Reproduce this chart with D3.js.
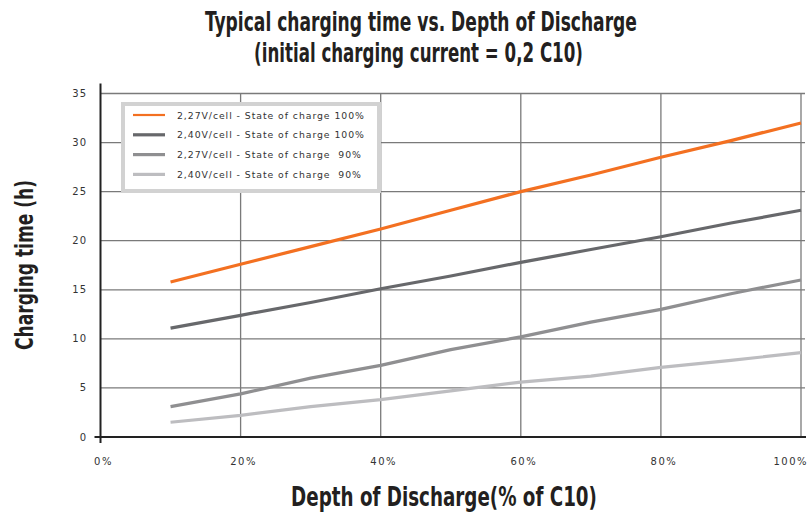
<!DOCTYPE html>
<html><head><meta charset="utf-8">
<script src="https://cdn.jsdelivr.net/npm/d3@7"></script>
<style>
body{margin:0;background:#fff;}
svg{display:block;}
</style></head>
<body>
<svg id="chart" width="811" height="517"></svg>
<script>
const depth = [10,20,30,40,50,60,70,80,90,100];
const soc100_227 = [15.8,17.6,19.4,21.2,23.1,25.0,26.7,28.5,30.2,32.0];
const soc100_240 = [11.1,12.4,13.7,15.1,16.4,17.8,19.1,20.4,21.8,23.1];
const soc90_227  = [3.1,4.4,6.0,7.3,8.9,10.2,11.7,13.0,14.6,16.0];
const soc90_240  = [1.5,2.2,3.1,3.8,4.7,5.6,6.2,7.1,7.8,8.6];
const seriesNames = ["2,27V/cell - State of charge 100%","2,40V/cell - State of charge 100%","2,27V/cell - State of charge  90%","2,40V/cell - State of charge  90%"];
const seriesColors = ["#f37021","#67686b","#8f8f91","#bdbdc0"];
const xTicks = [0,20,40,60,80,100];
const yTicks = [0,5,10,15,20,25,30,35];

const series = [soc100_227, soc100_240, soc90_227, soc90_240];
const svg = d3.select("#chart");
const x = d3.scaleLinear().domain([0,100]).range([100.5,801]);
const y = d3.scaleLinear().domain([0,35]).range([437,93.5]);
const txt = "#231f20";
const narrow = "'Liberation Sans Narrow','DejaVu Sans Condensed',sans-serif";
const small = "Verdana,'DejaVu Sans',sans-serif";

// grid
svg.append("g").selectAll("line").data(yTicks.filter(d=>d>0)).join("line")
  .attr("x1",x(0)).attr("x2",x(100)+4).attr("y1",d=>y(d)).attr("y2",d=>y(d))
  .attr("stroke","#7a7a7a").attr("stroke-width",1.3);
svg.append("g").selectAll("line").data(xTicks.filter(d=>d>0)).join("line")
  .attr("x1",d=>x(d)).attr("x2",d=>x(d)).attr("y1",y(35)).attr("y2",y(0))
  .attr("stroke","#7a7a7a").attr("stroke-width",1.3);

// axes lines
svg.append("line").attr("x1",x(0)-6).attr("x2",x(100)+5).attr("y1",y(0)).attr("y2",y(0))
  .attr("stroke","#222").attr("stroke-width",2);
svg.append("line").attr("x1",x(0)).attr("x2",x(0)).attr("y1",y(35)-10).attr("y2",y(0)+6)
  .attr("stroke","#222").attr("stroke-width",2);

// tick labels
svg.append("g").selectAll("text").data(yTicks).join("text")
  .attr("x",x(0)-13).attr("y",d=>y(d)+3.5).attr("text-anchor","end")
  .attr("font-family",small).attr("font-size",10).attr("letter-spacing",1.3).attr("fill","#333")
  .text(d=>d);
svg.append("g").selectAll("text").data(xTicks).join("text")
  .attr("x",d=>d===100?808:x(d)+3).attr("y",465).attr("text-anchor",d=>d===100?"end":"middle")
  .attr("font-family",small).attr("font-size",10).attr("letter-spacing",1.5).attr("fill","#333")
  .text(d=>d+"%");

// lines
const line = d3.line().x((d,i)=>x(depth[i])).y(d=>y(d));
series.forEach((s,k)=>{
  svg.append("path").datum(s).attr("d",line).attr("fill","none")
    .attr("stroke",seriesColors[k]).attr("stroke-width",3.2).attr("stroke-linejoin","round");
});

// legend
const lg = svg.append("g");
lg.append("rect").attr("x",123).attr("y",104).attr("width",256).attr("height",87)
  .attr("fill","#fff").attr("stroke","#d2d2d2").attr("stroke-width",4);
seriesNames.forEach((n,k)=>{
  const yy = 115 + k*19.8;
  lg.append("line").attr("x1",133).attr("x2",165).attr("y1",yy).attr("y2",yy)
    .attr("stroke",seriesColors[k]).attr("stroke-width",k===0?2.2:3.2);
  lg.append("text").attr("x",177).attr("y",yy+3.5).attr("font-family",small)
    .attr("font-size",9.3).attr("letter-spacing",0.95).attr("fill","#333")
    .attr("xml:space","preserve").style("white-space","pre").text(n);
});

// titles fitted to width
function fitText(cx, cy, str, size, width, rotate){
  const g = svg.append("g").attr("transform",`translate(${cx},${cy})`+(rotate?" rotate(-90)":""));
  const t = g.append("text").attr("text-anchor","middle")
    .attr("font-family",narrow).attr("font-weight","bold").attr("font-size",size).attr("fill",txt)
    .text(str);
  const w = t.node().getComputedTextLength();
  t.attr("transform",`scale(${width/w},1)`);
}
fitText(421, 31, "Typical charging time vs. Depth of Discharge", 27, 432);
fitText(418.5, 62, "(initial charging current = 0,2 C10)", 27, 329);
fitText(444, 506, "Depth of Discharge(% of C10)", 27, 306);
fitText(33, 265, "Charging time (h)", 25, 170, true);
</script>
</body></html>
